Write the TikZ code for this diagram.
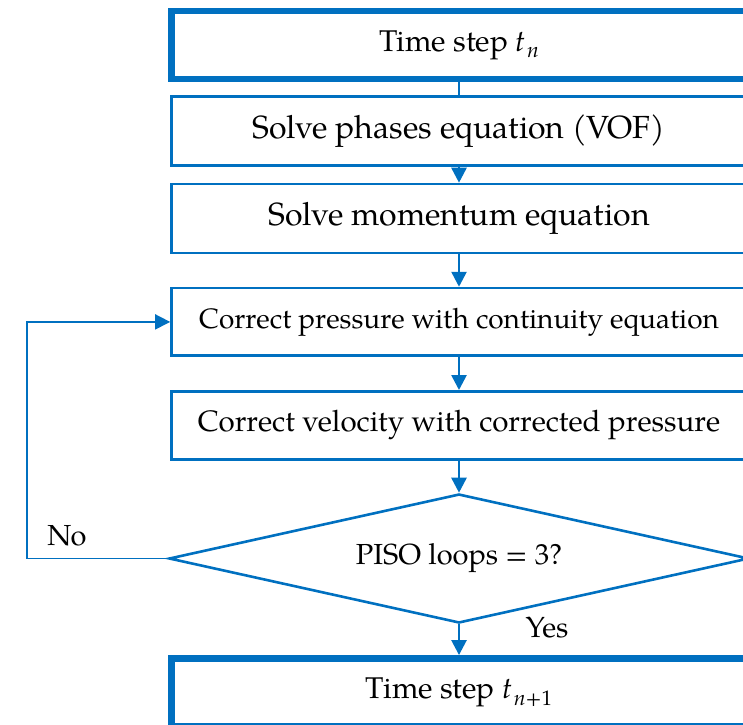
\documentclass[tikz,border=0pt]{standalone}
\usepackage{fontspec}
\setmainfont{TeX Gyre Pagella}
\usetikzlibrary{shapes.geometric,arrows.meta}
\definecolor{fcblue}{HTML}{0070C0}
\newcommand{\tsubidx}[1]{\textit{t}\kern0.05em\raisebox{-0.22em}{\fontsize{21}{24}\selectfont #1}}
\begin{document}
\begin{tikzpicture}[x=1pt,y=-1pt,
  thinbox/.style={draw=fcblue,line width=2.6pt,minimum width=575pt,inner sep=0pt,align=center},
  thickbox/.style={draw=fcblue,line width=6.5pt,minimum width=575pt,inner sep=0pt,align=center},
  bigtxt/.style={font=\fontsize{32}{38}\selectfont},
  midtxt/.style={font=\fontsize{28}{34}\selectfont},
  velotxt/.style={font=\fontsize{29.5}{35}\selectfont},
  smtxt/.style={font=\fontsize{29}{34}\selectfont},
  tstxt/.style={font=\fontsize{30}{35}\selectfont},
  flow/.style={draw=fcblue,line width=2.6pt,-{Triangle[length=15pt,width=15pt]}},
  plain/.style={draw=fcblue,line width=2.6pt},
  loopline/.style={draw=fcblue,line width=1.6pt},
  lbl/.style={font=\fontsize{29}{34}\selectfont,inner sep=0pt,anchor=base}
]
\useasboundingbox (0,0) rectangle (743,724);
\clip (0,0) rectangle (743,724);
\node[thickbox,tstxt,minimum height=68.3pt] (b1) at (459,44.9) {Time step \tsubidx{\textit{n}}};
\node[thinbox,bigtxt,minimum height=68.6pt] (b2) at (459,131) {Solve phases equation (VOF)};
\node[thinbox,bigtxt,minimum height=69pt] (b3) at (459,218.5) {Solve momentum equation};
\node[thinbox,midtxt,minimum height=67.7pt] (b4) at (459,321.9) {Correct pressure with continuity equation};
\node[thinbox,velotxt,minimum height=68.2pt] (b5) at (459,425.4) {Correct velocity with corrected pressure};
\node[diamond,aspect=4.5,draw=fcblue,line width=2.6pt,smtxt,inner sep=0pt,minimum width=580pt,minimum height=129pt] (d) at (459,558.5) {PISO loops = 3?};
\node[thickbox,tstxt,minimum height=68pt] (b6) at (459,692.3) {Time step \tsubidx{\textit{n}+1}};
\coordinate (lb) at (27,558.5);
\coordinate (lt) at (27,321.9);
\draw[plain] (b1) -- (b2);
\draw[flow] (b2) -- (b3);
\draw[flow] (b3) -- (b4);
\draw[flow] (b4) -- (b5);
\draw[flow] (b5) -- (d);
\draw[flow] (d) -- (b6);
\draw[loopline,-{Triangle[length=15pt,width=15pt]}] (d.west) -- (lb) -- (lt) -- (b4.west);
\node[lbl] (no) at (67,545) {No};
\node[lbl] (yes) at (547,637) {Yes};
\end{tikzpicture}
\end{document}
